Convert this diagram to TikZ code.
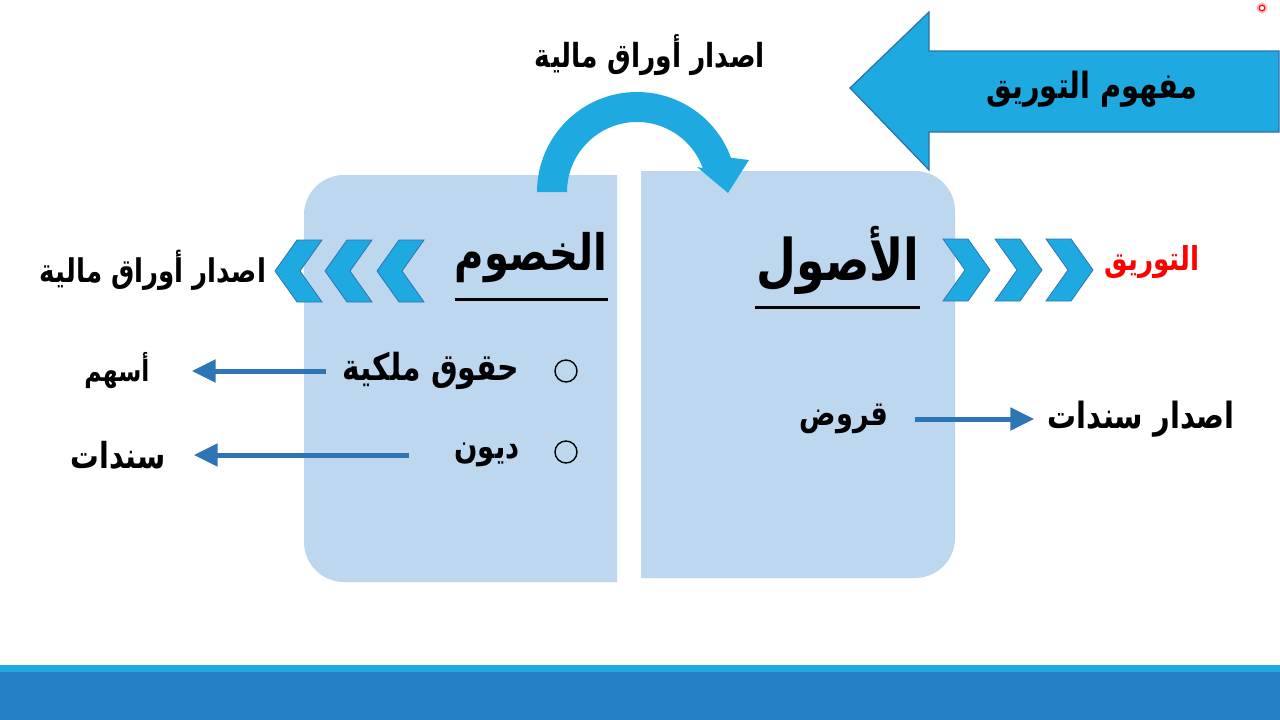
\documentclass[tikz,border=0pt]{standalone}
\usepackage{graphicx}
\usepackage{fontspec}
\usetikzlibrary{arrows.meta}
\newfontfamily\arabicfont[Script=Arabic]{DejaVu Sans}
\TeXXeTstate=1
\definecolor{cyanA}{HTML}{1FA9E1}
\definecolor{boxB}{HTML}{BDD7EE}
\definecolor{lineB}{HTML}{2E75B6}
\definecolor{barB}{HTML}{2581C4}
\definecolor{edgeB}{HTML}{2F6FA8}
\newcommand{\artext}[2]{\scalebox{1}[1.25]{\resizebox{#1pt}{!}{\arabicfont\bfseries #2}}}
\begin{document}
\begin{tikzpicture}[x=1pt,y=-1pt,
  txt/.style={inner sep=0pt, anchor=center},
  arr/.style={draw=lineB, line width=5pt, -{Triangle[length=24pt,width=22pt]}},
  chev/.style={fill=cyanA, draw=lineB, line width=0.8pt},
  bul/.style={circle, draw=black, line width=1.4pt, minimum size=22pt, inner sep=0pt}]
\useasboundingbox (0,0) rectangle (1280,720);
\fill[white] (0,0) rectangle (1280,720);
% bottom bars
\fill[cyanA] (0,665) rectangle (1280,672);
\fill[barB] (0,672) rectangle (1280,720);
% red dot
\fill[red!25] (1262,8) circle[radius=5.5];
\draw[red, fill=white, line width=1.2pt] (1262,8) circle[radius=2.8];
% boxes
\begin{scope}
  \clip (0,0) rectangle (617,720);
  \fill[boxB, rounded corners=40pt] (304,175) rectangle (720,582);
\end{scope}
\begin{scope}
  \clip (641,0) rectangle (1280,720);
  \fill[boxB, rounded corners=40pt] (540,171) rectangle (955,578);
\end{scope}
% curved arrow
\begin{scope}[shift={(637,192)}]
  \fill[cyanA] (180:100) arc[start angle=180, end angle=340, radius=100]
    -- (112,-32) -- (91,1) -- (60,-25) -- (340:70)
    arc[start angle=340, end angle=180, radius=70] -- cycle;
\end{scope}
% big left arrow
\draw[fill=cyanA, draw=edgeB, line width=1.2pt] (850,88) -- (929,12) -- (929,51) -- (1279,51)
  -- (1279,132) -- (929,132) -- (929,170) -- cycle;
\node[txt] (title) at (1092,89) {\artext{211}{\beginR مفهوم التوريق\endR}};
% chevrons left
\foreach \x in {275,325,377}
  \draw[chev] (\x,271) -- (\x+22,240) -- (\x+47,240) -- (\x+25,271) -- (\x+47,302) -- (\x+22,302) -- cycle;
% chevrons right
\foreach \x in {943,995,1046}
  \draw[chev] (\x,239) -- (\x+25,239) -- (\x+47,270) -- (\x+25,301) -- (\x,301) -- (\x+22,270) -- cycle;
% texts
\node[txt] (top) at (650,55) {\artext{230}{\beginR اصدار أوراق مالية\endR}};
\node[txt] (left) at (153,270) {\artext{226}{\beginR اصدار أوراق مالية\endR}};
\node[txt] (taw) at (1152,262) {\textcolor{red}{\artext{95}{\beginR التوريق\endR}}};
\node[txt] (khus) at (531,258) {\artext{152}{\beginR الخصوم\endR}};
\node[txt] (usul) at (838,260) {\artext{163}{\beginR الأصول\endR}};
\draw[line width=3pt] (455,299) -- (608,299);
\draw[line width=3pt] (755,307) -- (920,307);
\node[bul] (b1) at (566,371) {};
\node[bul] (b2) at (566,452) {};
\node[txt] (huq) at (431,371) {\artext{177}{\beginR حقوق ملكية\endR}};
\node[txt] (duy) at (487,455) {\artext{65}{\beginR ديون\endR}};
\node[txt] (ash) at (117,371) {\artext{65}{\beginR أسهم\endR}};
\node[txt] (san) at (118,455) {\artext{95}{\beginR سندات\endR}};
\node[txt] (qur) at (844,419) {\artext{88}{\beginR قروض\endR}};
\node[txt] (isd) at (1141,419) {\artext{187}{\beginR اصدار سندات\endR}};
% arrows
\draw[arr] ([xshift=-45pt]duy.west) -- ([xshift=28pt]san.east);
\draw[arr] ([xshift=-16pt]huq.west) -- ([xshift=42pt]ash.east);
\draw[arr] ([xshift=27pt]qur.east) -- ([xshift=-13pt]isd.west);
\end{tikzpicture}
\end{document}
